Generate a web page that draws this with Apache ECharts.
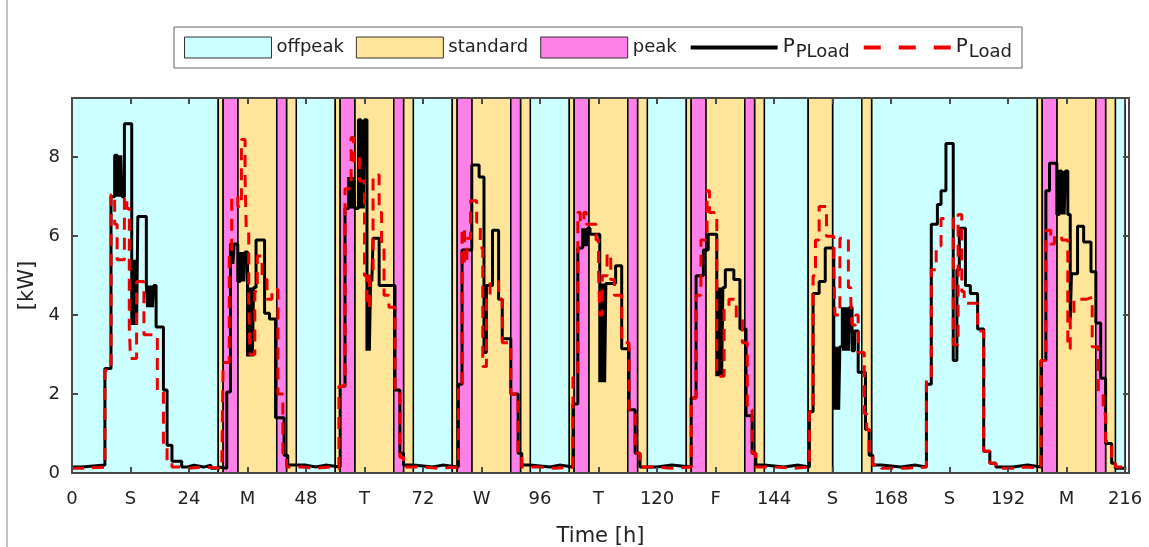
<!DOCTYPE html>
<html>
<head>
<meta charset="utf-8">
<script src="https://cdn.jsdelivr.net/npm/echarts@6/dist/echarts.min.js"></script>
<style>
html, body { margin: 0; padding: 0; background: #ffffff; }
#chart { width: 1149px; height: 547px; }
</style>
</head>
<body>
<div id="chart"></div>
<script>
// Tick labels every 12 h: hour numbers at midnight, weekday letter at noon
const xTickLabels = ['0', 'S', '24', 'M', '48', 'T', '72', 'W', '96', 'T', '120', 'F',
                     '144', 'S', '168', 'S', '192', 'M', '216'];

// Tariff periods [start h, end h]
const offpeakBands = [[0, 30], [46, 54], [70, 78], [94, 102], [118, 126], [142, 151],
                      [156, 162], [164, 198], [214, 216]];
const standardBands = [[30, 31], [34, 42], [44, 46], [54, 55], [58, 66], [68, 70],
                       [78, 79], [82, 90], [92, 94], [102, 103], [106, 114], [116, 118],
                       [126, 127], [130, 138], [140, 142], [151, 156], [162, 164],
                       [198, 199], [202, 210], [212, 214]];
const peakBands = [[31, 34], [42, 44], [55, 58], [66, 68], [79, 82], [90, 92],
                   [103, 106], [114, 116], [127, 130], [138, 140], [199, 202], [210, 212]];

// Peak-shaved load P_PLoad [h, kW]; each value holds until the next hour entry
const pPLoad = [
  [0, 0.15], [2, 0.2], [6.75, 2.65], [8, 7.0], [8.75, 8.05], [9.25, 7.0], [9.5, 8.05], [9.75, 7.0],
  [10, 8.05], [10.25, 7.0], [10.75, 8.85], [12.25, 3.75], [12.5, 5.4], [12.75, 3.75], [13, 5.4],
  [13.25, 3.75], [13.5, 6.5], [15.25, 4.75], [15.5, 4.2], [15.75, 4.75], [16, 4.2], [16.25, 4.75],
  [16.5, 4.2], [16.75, 4.75], [17.25, 3.7], [18.75, 2.1], [19.5, 0.7], [20.5, 0.3], [22.5, 0.15],
  [23.5, 0.2], [25, 0.15], [27, 0.2], [28.5, 0.12], [29.5, 0.15],
  [30, 0.12], [31.75, 2.05], [32.5, 5.8], [33, 5.3], [33.25, 5.8], [34, 4.85], [34.5, 5.6],
  [34.75, 4.85], [35, 5.6], [35.25, 4.85], [35.5, 5.6], [36, 2.95], [36.25, 4.7], [36.5, 2.95],
  [36.75, 4.7], [37, 2.95], [37.25, 4.7], [37.75, 5.9], [39.5, 4.05], [40.5, 3.9], [41.75, 1.4],
  [43.5, 0.45], [44.25, 0.2], [48, 0.15], [50, 0.2], [52, 0.15],
  [55, 2.2], [56, 6.7], [56.75, 7.5], [57, 6.7], [57.25, 7.5], [57.5, 6.7], [57.75, 7.5], [58, 6.7],
  [58.75, 8.95], [59.25, 6.7], [59.5, 8.95], [59.75, 6.7], [60, 8.95], [60.5, 3.1], [60.75, 5.0],
  [61, 3.1], [61.25, 5.0], [61.5, 4.85], [61.75, 5.95], [63, 4.75], [66.25, 2.1], [67.25, 0.5],
  [68, 0.2], [70, 0.15], [74, 0.2], [76, 0.15],
  [79.25, 2.25], [80, 5.65], [82, 7.8], [83.5, 7.5], [84.5, 3.05], [85, 4.75], [86.25, 6.15],
  [87.5, 4.4], [88.25, 3.4], [90, 2.0], [91.5, 0.5], [92.25, 0.2], [94, 0.15], [98, 0.2], [100, 0.15],
  [102.75, 1.75], [103.75, 5.7], [104.75, 6.2], [105, 5.75], [105.25, 6.2], [105.5, 5.75],
  [105.75, 6.2], [106.25, 6.05], [108.25, 2.3], [108.5, 4.8], [108.75, 2.3], [109, 4.8],
  [109.25, 2.3], [109.5, 4.8], [111.5, 5.25], [112.75, 3.15], [114.25, 1.6], [115.5, 0.5],
  [116.5, 0.15], [120, 0.2], [123, 0.15],
  [127, 1.9], [128, 5.0], [129.5, 5.65], [130.5, 6.05], [132.25, 2.45], [132.5, 4.7], [132.75, 2.45],
  [133, 4.7], [133.25, 2.45], [133.5, 4.7], [134, 5.15], [135.75, 4.9], [137, 3.65], [138.25, 1.45],
  [139.5, 0.5], [140.25, 0.2], [142, 0.15], [146, 0.2], [149, 0.15],
  [151.25, 1.55], [152, 4.55], [153.25, 4.85], [154.5, 5.7], [156.25, 1.6], [156.5, 3.2],
  [156.75, 1.6], [157, 3.2], [157.25, 1.6], [157.5, 3.2], [158, 4.2], [158.25, 3.1], [158.5, 4.2],
  [158.75, 3.1], [159, 4.2], [159.25, 3.1], [159.5, 4.2], [160, 3.1], [160.5, 3.6], [161.25, 2.55],
  [162.75, 1.1], [163.5, 0.45], [164.25, 0.2], [166, 0.15], [170, 0.2], [173, 0.15],
  [175.25, 2.25], [176.25, 6.3], [177.5, 6.8], [178.25, 7.15], [179.25, 8.35], [180.75, 2.85],
  [181.5, 5.15], [182, 6.2], [183.25, 4.75], [184.25, 4.55], [185.75, 3.65], [187, 0.55],
  [188.25, 0.25], [189.5, 0.15], [193, 0.2], [196, 0.15],
  [198.75, 2.85], [199.75, 7.15], [200.5, 7.85], [202, 6.55], [202.5, 7.65], [203, 6.55],
  [203.25, 7.65], [203.5, 6.55], [203.75, 7.65], [204.25, 6.55], [204.75, 3.9], [205, 5.05],
  [206.25, 6.25], [207.5, 5.85], [209, 5.1], [210, 3.8], [211, 2.4], [212, 0.75], [213.25, 0.25],
  [214, 0.12], [216.25, 0.12]
];

// Original household load P_Load [h, kW]
const pLoad = [
  [0, 0.12], [2.5, 0.15], [6.75, 2.6], [8, 7.05], [8.75, 6.3], [9.25, 5.4], [10.75, 7.0],
  [11.25, 6.7], [11.75, 3.7], [12, 2.9], [13.25, 4.85], [14.75, 3.5], [17.5, 2.05], [18.75, 0.7],
  [19.5, 0.3], [20.5, 0.15], [22, 0.12], [24, 0.15], [27, 0.12],
  [30.75, 0.4], [31, 2.8], [32.25, 5.5], [32.75, 7.0], [34, 6.75], [34.75, 8.45], [35.5, 7.5],
  [35.75, 6.1], [36.25, 4.3], [36.5, 3.0], [37.5, 4.6], [38, 5.5], [39, 4.9], [40, 4.4], [41, 4.65],
  [42.25, 2.0], [43.25, 0.5], [44, 0.15], [47, 0.12], [50, 0.15], [53, 0.12],
  [54.75, 2.2], [56, 7.2], [57.25, 8.5], [57.75, 7.9], [58.5, 8.0], [59, 7.4], [60, 5.0], [60.5, 4.2],
  [61, 5.0], [61.75, 7.55], [63, 6.6], [63.5, 5.8], [64, 4.5], [65, 4.2], [66.25, 2.1], [67.25, 0.4],
  [68, 0.15], [72, 0.12], [75, 0.15],
  [79.25, 2.25], [80, 6.2], [80.5, 5.3], [81, 5.95], [81.75, 6.9], [83, 6.35], [83.75, 5.7],
  [84.25, 2.7], [85, 4.4], [85.75, 4.85], [87.5, 4.4], [88.25, 3.3], [90, 2.0], [91.5, 0.5],
  [92.25, 0.15], [96, 0.12], [99, 0.15],
  [102.75, 2.45], [103.75, 6.6], [104.25, 6.35], [105, 6.6], [105.5, 6.3], [107.5, 5.9], [108, 5.1],
  [108.25, 4.0], [108.75, 5.0], [109.75, 5.55], [110.5, 4.9], [111.25, 4.5], [112.75, 3.3],
  [114.25, 1.6], [115.5, 0.5], [116.5, 0.15], [120, 0.12], [123, 0.15],
  [127, 1.9], [128, 4.5], [129, 5.9], [130.25, 7.15], [130.75, 6.6], [132.25, 2.45], [133.75, 4.2],
  [134.75, 4.4], [136.25, 3.9], [137.5, 3.3], [138.5, 1.6], [139.5, 0.5], [140.25, 0.15],
  [144, 0.12], [148, 0.15],
  [151.25, 1.55], [152, 5.0], [152.5, 5.9], [153.25, 6.75], [154.75, 6.0], [156.25, 5.2],
  [156.5, 4.0], [157.5, 5.95], [159.25, 4.7], [159.75, 4.35], [160, 3.75], [160.75, 4.0],
  [161.25, 3.05], [162.5, 1.5], [163, 1.1], [163.5, 0.45], [164.25, 0.2], [166, 0.12], [171, 0.15],
  [175.25, 2.4], [176.25, 5.15], [177.25, 5.75], [178.25, 6.45], [180.75, 3.25], [181.75, 6.55],
  [182.5, 4.6], [183, 4.3], [185.75, 3.6], [187, 0.55], [188.25, 0.25], [189.5, 0.12], [193, 0.15],
  [196, 0.12],
  [198.75, 2.85], [199.75, 6.15], [200.75, 5.8], [201.5, 6.0], [203, 5.9], [204.25, 3.15],
  [204.75, 4.0], [205.5, 4.4], [208, 4.45], [209.25, 3.2], [210.5, 2.0], [211.5, 1.5], [212, 0.8],
  [213.25, 0.25], [214, 0.15], [216.25, 0.15]
];

const FONT = 'DejaVu Sans, Verdana, sans-serif';
const TEXT = '#222222';
const FRAME = '#4a4a4a';
const COLORS = { offpeak: '#ccffff', standard: '#ffe599', peak: '#ff80e6' };

function bandSeries(name, bands) {
  return {
    name: name,
    type: 'line',
    data: [],
    z: 1,
    silent: true,
    itemStyle: { color: COLORS[name] },
    markArea: {
      silent: true,
      itemStyle: { color: COLORS[name], borderColor: '#000000', borderWidth: 1.5 },
      data: bands.map(b => [{ xAxis: b[0] }, { xAxis: b[1] }])
    }
  };
}

function xAxisOf(position, withLabels) {
  return {
    type: 'value', min: 0, max: 216.8, interval: 12, position: position, z: 10,
    axisLine: { show: true, onZero: false, lineStyle: { color: FRAME, width: 2 } },
    axisTick: { show: true, inside: true, length: 6, lineStyle: { color: FRAME, width: 2 } },
    axisLabel: {
      show: withLabels, margin: 17, fontSize: 18, color: TEXT, fontFamily: FONT,
      formatter: v => (Math.abs(v % 12) < 1e-9 ? xTickLabels[Math.round(v / 12)] : '')
    },
    splitLine: { show: false },
    name: withLabels ? 'Time [h]' : '', nameLocation: 'middle', nameGap: 53,
    nameTextStyle: { fontSize: 21, color: TEXT, fontFamily: FONT }
  };
}

function yAxisOf(position, withLabels) {
  return {
    type: 'value', min: 0, max: 9.5, interval: 2, position: position, z: 10,
    axisLine: { show: true, onZero: false, lineStyle: { color: FRAME, width: 2 } },
    axisTick: { show: true, inside: true, length: 6, lineStyle: { color: FRAME, width: 2 } },
    axisLabel: {
      show: withLabels, margin: 12, fontSize: 18, color: TEXT, fontFamily: FONT,
      formatter: v => (Math.abs(v % 2) < 1e-9 ? String(v) : '')
    },
    splitLine: { show: false },
    name: withLabels ? '[kW]' : '', nameLocation: 'middle', nameGap: 34,
    nameTextStyle: { fontSize: 21, color: TEXT, fontFamily: FONT }
  };
}

const chart = echarts.init(document.getElementById('chart'), null, { renderer: 'canvas' });
chart.setOption({
  animation: false,
  backgroundColor: '#ffffff',
  grid: { left: 72, right: 20, top: 98, bottom: 74, containLabel: false, outerBoundsMode: 'none' },
  graphic: [{
    type: 'line', shape: { x1: 7, y1: 0, x2: 7, y2: 547 },
    style: { stroke: '#8a8a8a', lineWidth: 1 }
  }],
  legend: {
    left: 174, top: 27,
    padding: [7, 10, 7, 10],
    itemGap: 12, itemWidth: 87, itemHeight: 21,
    borderColor: '#666666', borderWidth: 1,
    selectedMode: false,
    textStyle: {
      fontSize: 18, color: TEXT, fontFamily: FONT,
      rich: {
        p: { fontSize: 20, fontFamily: FONT, color: TEXT, verticalAlign: 'top', lineHeight: 21 },
        s: { fontSize: 18, fontFamily: FONT, color: TEXT, lineHeight: 18, padding: [9, 0, 0, 1] }
      }
    },
    formatter: name => {
      if (name === 'PPLoad') return '{p|P}{s|PLoad}';
      if (name === 'PLoad') return '{p|P}{s|Load}';
      return name;
    },
    data: [
      { name: 'offpeak', icon: 'rect', itemStyle: { color: COLORS.offpeak, borderColor: '#333', borderWidth: 1 } },
      { name: 'standard', icon: 'rect', itemStyle: { color: COLORS.standard, borderColor: '#333', borderWidth: 1 } },
      { name: 'peak', icon: 'rect', itemStyle: { color: COLORS.peak, borderColor: '#333', borderWidth: 1 } },
      { name: 'PPLoad', itemStyle: { opacity: 0 }, lineStyle: { color: '#000000', width: 4 } },
      { name: 'PLoad', itemStyle: { opacity: 0 }, lineStyle: { color: '#ee0000', width: 4, type: [17, 18] } }
    ]
  },
  xAxis: [xAxisOf('bottom', true), xAxisOf('top', false)],
  yAxis: [yAxisOf('left', true), yAxisOf('right', false)],
  series: [
    bandSeries('offpeak', offpeakBands),
    bandSeries('standard', standardBands),
    bandSeries('peak', peakBands),
    {
      name: 'PPLoad', type: 'line', step: 'end', data: pPLoad, symbol: 'none', z: 3,
      lineStyle: { color: '#000000', width: 3 }, itemStyle: { color: '#000000' }
    },
    {
      name: 'PLoad', type: 'line', step: 'end', data: pLoad, symbol: 'none', z: 4,
      lineStyle: { color: '#ee0000', width: 3, type: [12, 8] }, itemStyle: { color: '#ee0000' }
    }
  ]
});
</script>
</body>
</html>
